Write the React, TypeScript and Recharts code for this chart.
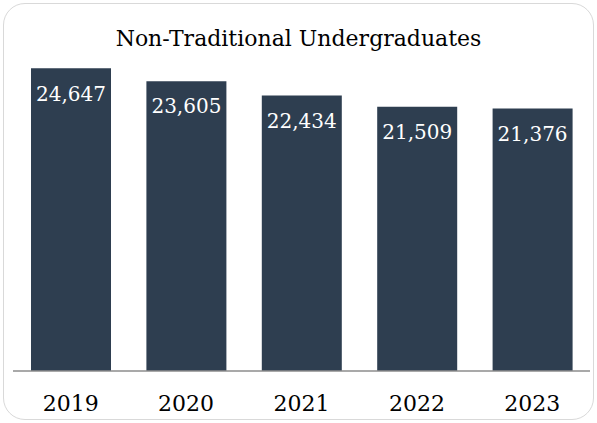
import { BarChart, Bar, XAxis, YAxis, LabelList } from "recharts"

const years = ["2019", "2020", "2021", "2022", "2023"]
const students = [24647, 23605, 22434, 21509, 21376]

const data = years.map((year, i) => ({ year, students: students[i] }))

const font = "'DejaVu Serif', serif"

export default function App() {
  return (
    <div style={{ position: "absolute", left: 0, top: 0, width: 597, height: 423, background: "#fff", fontFamily: font }}>
      <div
        style={{
          position: "absolute",
          left: 3,
          top: 3,
          width: 589,
          height: 415,
          border: "1px solid #d9d9d9",
          borderRadius: 22,
        }}
      />
      <div
        style={{
          position: "absolute",
          left: 0,
          top: 26,
          width: 597,
          textAlign: "center",
          fontSize: 22,
          color: "#000",
        }}
      >
        Non-Traditional Undergraduates
      </div>
      <div style={{ position: "absolute", left: 0, top: 0 }}>
        <BarChart
          width={597}
          height={423}
          data={data}
          margin={{ top: 64, right: 7, bottom: 12, left: 13 }}
        >
          <XAxis
            dataKey="year"
            height={40}
            tickLine={false}
            axisLine={{ stroke: "#8c8c8c", strokeWidth: 1.5 }}
            tickMargin={18}
            tick={{ fill: "#000", fontSize: 22, fontFamily: font }}
          />
          <YAxis hide domain={[0, 25000]} />
          <Bar dataKey="students" fill="#2e3e50" barSize={80} isAnimationActive={false}>
            <LabelList
              dataKey="students"
              position="insideTop"
              offset={18}
              fill="#fff"
              fontSize={20}
              fontFamily={font}
              formatter={(v: number) => v.toLocaleString("en-US")}
            />
          </Bar>
        </BarChart>
      </div>
    </div>
  )
}
